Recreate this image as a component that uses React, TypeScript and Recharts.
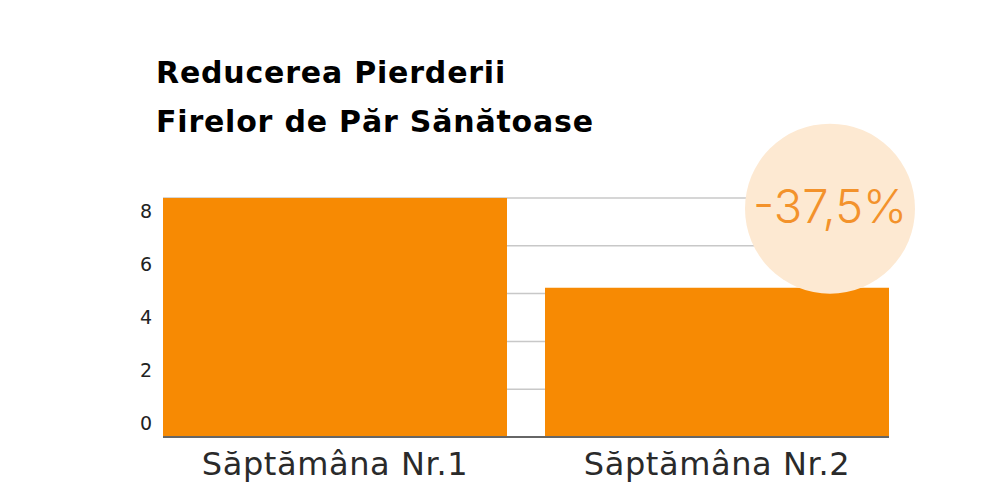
import React from "react";
import { BarChart, Bar, XAxis, YAxis, CartesianGrid, LabelList } from "recharts";

const categories = ["Săptămâna Nr.1", "Săptămâna Nr.2"];
const values = [8, 5];
const yLabelTicks = [0, 2, 4, 6, 8];
const gridTicks = [0, 1.6, 3.2, 4.8, 6.4, 8];
const titleLines = ["Reducerea Pierderii", "Firelor de Păr Sănătoase"];

const data = categories.map((c, i) => ({ name: c, value: values[i] }));
const change = ((values[1] - values[0]) / values[0]) * 100;
const changeText = `${change.toFixed(1).replace(".", ",")}%`;

const BadgeLabel = (props: any) => {
  const { x, y, width, index } = props;
  if (index !== 1) return null;
  const cx = x + width - 59;
  const cy = y - 79;
  return (
    <g>
      <circle cx={cx} cy={cy} r={85} fill="#FDE9D2" />
      <text
        x={cx}
        y={cy + 2}
        textAnchor="middle"
        dominantBaseline="middle"
        fontSize={47}
        fontWeight={300}
        fill="#F3922B"
        fontFamily="Inter, sans-serif"
      >
        {changeText}
      </text>
    </g>
  );
};

export default function App() {
  return (
    <div style={{ position: "absolute", left: 0, top: 0, width: 1000, height: 500, background: "#fff" }}>
      <div
        style={{
          position: "absolute",
          left: 156,
          top: 48,
          fontFamily: "'DejaVu Sans', sans-serif",
          fontWeight: 700,
          fontSize: 30,
          letterSpacing: "0.8px",
          lineHeight: "49px",
          color: "#000",
          whiteSpace: "nowrap",
        }}
      >
        {titleLines.map((t) => (
          <div key={t}>{t}</div>
        ))}
      </div>
      <BarChart
        width={1000}
        height={500}
        data={data}
        margin={{ top: 198, right: 111, bottom: 0, left: 0 }}
        barCategoryGap={19}
      >
        <CartesianGrid yAxisId="grid" vertical={false} stroke="#c8c8c8" strokeWidth={1.5} />
        <YAxis yAxisId="grid" hide type="number" domain={[0, 8]} ticks={gridTicks} allowDataOverflow />
        <YAxis
          yAxisId="lab"
          type="number"
          width={163}
          domain={[-0.5, 8.5]}
          allowDataOverflow
          ticks={yLabelTicks}
          interval={0}
          axisLine={false}
          tickLine={false}
          tick={{ fontSize: 19, fill: "#222", fontFamily: "'DejaVu Sans', sans-serif", fontWeight: 400, dx: 57 }}
        />
        <XAxis
          dataKey="name"
          height={63}
          padding={{ left: -19, right: -19 }}
          axisLine={{ stroke: "#666", strokeWidth: 2 }}
          tickLine={false}
          tickSize={0}
          tickMargin={15}
          tick={{ fontSize: 32, fill: "#2a2a2a", fontFamily: "'DejaVu Sans', sans-serif", fontWeight: 400, letterSpacing: "0.6px" }}
        />
        <Bar yAxisId="grid" dataKey="value" fill="#F78A03" isAnimationActive={false}>
          <LabelList dataKey="value" content={<BadgeLabel />} />
        </Bar>
      </BarChart>
    </div>
  );
}
